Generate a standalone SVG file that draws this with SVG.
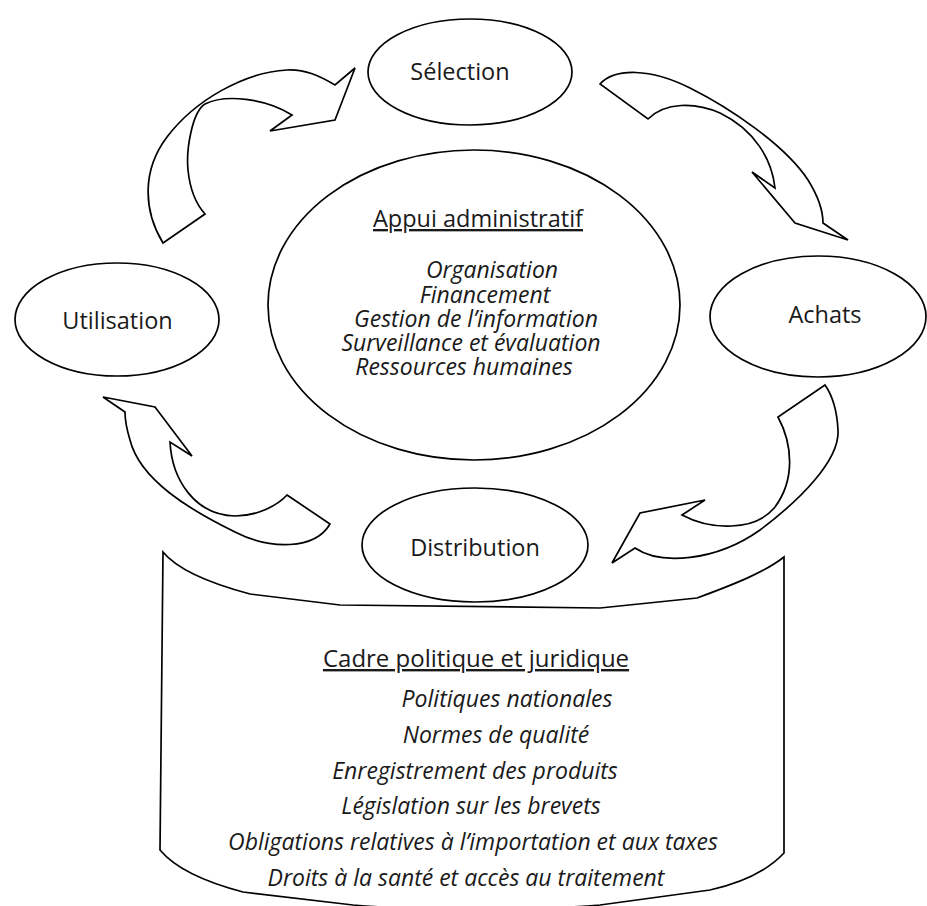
<svg xmlns="http://www.w3.org/2000/svg" width="927" height="906" viewBox="0 0 927 906">
<style>
.s{fill:#fff;stroke:#000;stroke-width:1.7;stroke-linejoin:miter}
.lbl{font-family:"Open Sans","Noto Sans",sans-serif;font-size:23.5px;fill:#1a1a1a;text-anchor:middle}
.it{font-family:"Open Sans","Noto Sans",sans-serif;font-size:23px;font-style:italic;fill:#1a1a1a;text-anchor:middle}
.u{text-decoration:underline}
</style>
<rect width="927" height="906" fill="#fff"/>
<g id="cadre">
<path class="s" d="M163,552 C176,568 205,582 250,594 L340,605 L600,608 L697,598 C735,584 765,572 784,557 L784,853 C770,868 745,882 710,890 L600,905 Q475,915 353,905 L243,892 C205,882 175,868 160,850 Z"/>
<text class="lbl u" x="476" y="667" style="font-size:24px">Cadre politique et juridique</text>
<text class="it" x="507" y="707">Politiques nationales</text>
<text class="it" x="496" y="743">Normes de qualité</text>
<text class="it" x="475" y="779">Enregistrement des produits</text>
<text class="it" x="471" y="814">Législation sur les brevets</text>
<text class="it" x="473" y="850">Obligations relatives à l’importation et aux taxes</text>
<text class="it" x="466" y="886">Droits à la santé et accès au traitement</text>
</g>
<g id="connectors">
<path class="s" d="M163,243 C143,210 142,170 167,137 C195,100 245,72 287,70 C305,69 320,76 335,85 L355,68 L335,120 L270,131 L292,115 C265,98 225,94 205,104 C192,112 186,150 188,170 C190,190 196,204 205,214 Z"/>
<path class="s" d="M600,84 C615,68 650,68 690,88 C730,108 785,145 808,180 C818,196 823,210 823,223 L848,240 L795,223 L752,172 L775,188 C772,160 755,130 720,113 C695,102 665,102 648,119 Z"/>
<path class="s" d="M825,385 L778,417 C793,445 795,480 775,507 C755,532 710,530 682,515 L705,500 L640,513 L612,563 L635,548 C660,565 715,562 760,530 C800,500 840,460 838,430 C837,410 832,395 825,385 Z"/>
<path class="s" d="M287,495 L330,524 C315,550 270,550 235,532 C190,510 140,480 130,440 C127,430 125,420 125,412 L103,397 L155,407 L192,456 L170,442 C172,480 195,515 235,516 C258,516 278,505 287,495 Z"/>
</g>
<g id="selection">
<ellipse class="s" cx="470" cy="72" rx="102" ry="53"/>
<text class="lbl" x="460" y="80">Sélection</text>
</g>
<g id="appui">
<ellipse class="s" cx="474" cy="305" rx="206" ry="155"/>
<text class="lbl u" x="478" y="227">Appui administratif</text>
<text class="it" x="492" y="278">Organisation</text>
<text class="it" x="485" y="303">Financement</text>
<text class="it" x="476" y="327">Gestion de l’information</text>
<text class="it" x="471" y="351">Surveillance et évaluation</text>
<text class="it" x="464" y="375">Ressources humaines</text>
</g>
<g id="utilisation">
<ellipse class="s" cx="117" cy="319.5" rx="102" ry="56.5"/>
<text class="lbl" x="117.5" y="329">Utilisation</text>
</g>
<g id="achats">
<ellipse class="s" cx="818" cy="316.5" rx="108" ry="60.5"/>
<text class="lbl" x="825" y="323">Achats</text>
</g>
<g id="distribution">
<ellipse class="s" cx="475" cy="545" rx="113" ry="57"/>
<text class="lbl" x="475" y="556">Distribution</text>
</g>
</svg>
